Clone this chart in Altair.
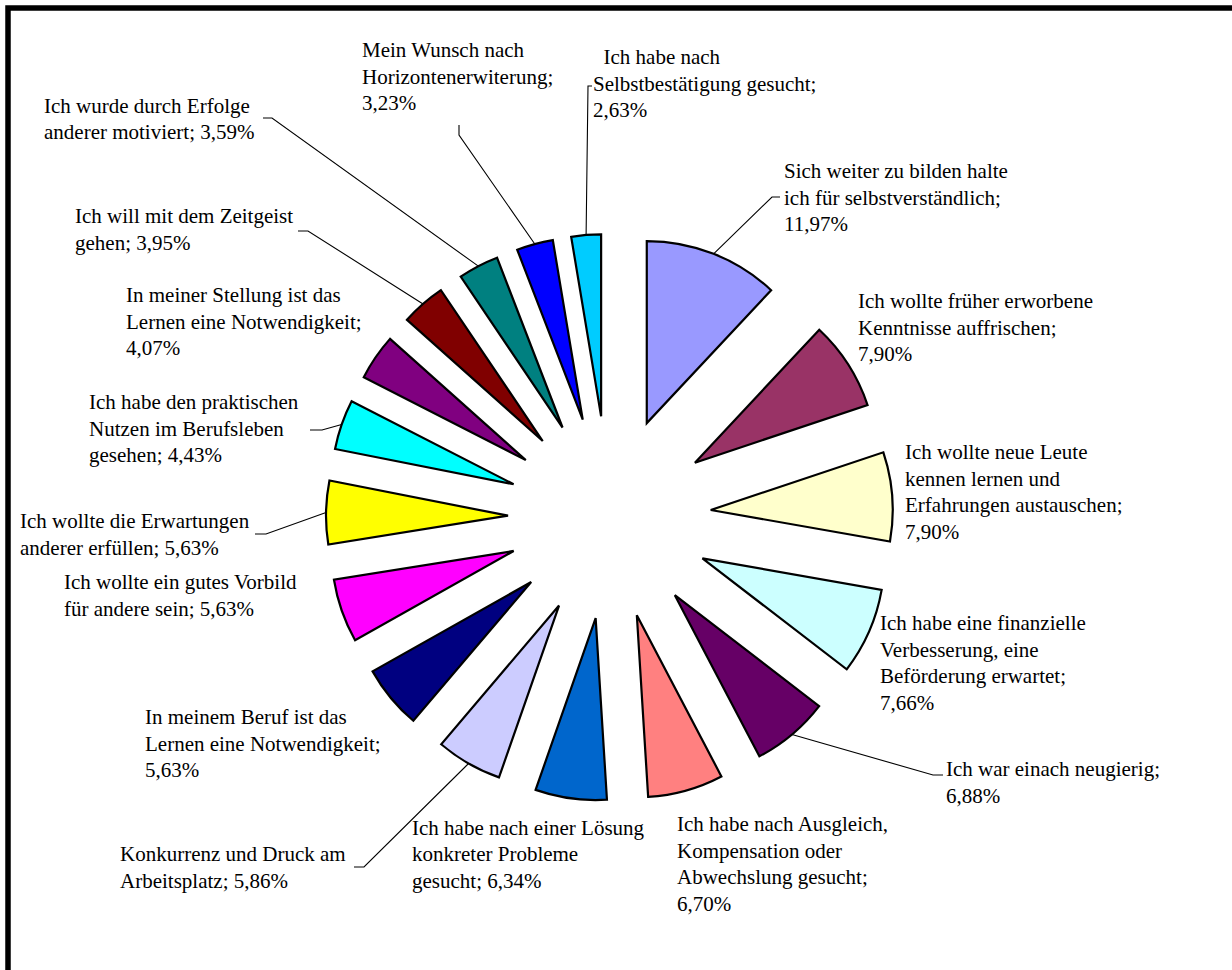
import math
import altair as alt
import pandas as pd

# ---------------- data ----------------
categories = [
    "Sich weiter zu bilden halte\nich für selbstverständlich",
    "Ich wollte früher erworbene\nKenntnisse auffrischen",
    "Ich wollte neue Leute\nkennen lernen und\nErfahrungen austauschen",
    "Ich habe eine finanzielle\nVerbesserung, eine\nBeförderung erwartet",
    "Ich war einach neugierig",
    "Ich habe nach Ausgleich,\nKompensation oder\nAbwechslung gesucht",
    "Ich habe nach einer Lösung\nkonkreter Probleme\ngesucht",
    "Konkurrenz und Druck am\nArbeitsplatz",
    "In meinem Beruf ist das\nLernen eine Notwendigkeit",
    "Ich wollte ein gutes Vorbild\nfür andere sein",
    "Ich wollte die Erwartungen\nanderer erfüllen",
    "Ich habe den praktischen\nNutzen im Berufsleben\ngesehen",
    "In meiner Stellung ist das\nLernen eine Notwendigkeit",
    "Ich will mit dem Zeitgeist\ngehen",
    "Ich wurde durch Erfolge\nanderer motiviert",
    "Mein Wunsch nach\nHorizontenerwiterung",
    "\u200b\u00a0\u00a0Ich habe nach\nSelbstbestätigung gesucht",
]
values = [11.97, 7.90, 7.90, 7.66, 6.88, 6.70, 6.34, 5.86, 5.63, 5.63,
          5.63, 4.43, 4.07, 3.95, 3.59, 3.23, 2.63]
# separator between text and percentage ("\n" = new line)
value_sep = ["\n", "\n", "\n", "\n", "\n", "\n", " ", " ", "\n", " ",
             " ", " ", "\n", " ", " ", "\n", "\n"]
colors = ["#9999FF", "#993366", "#FFFFCC", "#CCFFFF", "#660066", "#FF8080",
          "#0066CC", "#CCCCFF", "#000080", "#FF00FF", "#FFFF00", "#00FFFF",
          "#800080", "#800000", "#008080", "#0000FF", "#00CCFF"]

# ---------------- layout ----------------
W, H = 1232, 970
CX, CY = 609.5, 517.5      # pie centre
EXPLODE = 101.5            # distance each slice is pulled out
R = 182                    # slice radius
FONT = "Liberation Serif"

label_x = [784, 858, 905, 880, 946, 677, 412, 120, 145, 64, 20, 89, 126, 75, 44, 362, 593]
label_y = [178, 308, 459, 630, 776, 831, 834.5, 861, 724, 589, 528, 409, 302, 223, 112.5, 57, 64]

# leader-line waypoints after the start point on the slice (None = no leader)
leaders = [
    [(772, 197), (780, 197)], None, None, None,
    [(933, 775), (943, 775)], None, None,
    [(364, 867), (354, 867)], None, None,
    [(266, 534), (255, 534)],
    [(322, 430), (310, 430)], None,
    [(308, 231), (298, 231)],
    [(272, 118), (263, 118)],
    [(459, 135), (459, 125)],
    [(588, 86), (592, 86)],
]

total = sum(values)


def fmt(v):
    return f"{v:.2f}".replace(".", ",") + "%"


labels = [c + ";" + s + fmt(v) for c, s, v in zip(categories, value_sep, values)]

df = pd.DataFrame({
    "idx": list(range(len(values))),
    "cat": categories,
    "value": values,
})

# ---------------- slices ----------------
arcs = (
    alt.Chart(df)
    .transform_window(cum="sum(value)", sort=[alt.SortField("idx")], frame=[None, 0])
    .transform_calculate(start="datum.cum - datum.value")
    .transform_calculate(mid=f"2*PI*(datum.start + datum.value/2)/{total}")
    .transform_calculate(
        px=f"{CX} + {EXPLODE}*sin(datum.mid)",
        py=f"{CY} - {EXPLODE}*cos(datum.mid)",
    )
    .mark_arc(outerRadius=R, stroke="black", strokeWidth=2.2, strokeJoin="miter")
    .encode(
        theta=alt.Theta("start:Q", stack=None,
                        scale=alt.Scale(domain=[0, total], range=[0, 2 * math.pi])),
        theta2="cum:Q",
        x=alt.X("px:Q", scale=None, axis=None),
        y=alt.Y("py:Q", scale=None, axis=None),
        color=alt.Color("cat:N", scale=alt.Scale(domain=categories, range=colors), legend=None),
    )
)

# ---------------- leader lines ----------------
rows = []
cum = 0.0
for i, v in enumerate(values):
    mid = 2 * math.pi * (cum + v / 2) / total
    cum += v
    if leaders[i] is None:
        continue
    sx = CX + (EXPLODE + R) * math.sin(mid)
    sy = CY - (EXPLODE + R) * math.cos(mid)
    pts = [(sx, sy)] + leaders[i]
    for k, (x, y) in enumerate(pts):
        rows.append({"slice": i, "k": k, "lx": x, "ly": y})
lead_df = pd.DataFrame(rows)

lines = (
    alt.Chart(lead_df)
    .mark_line(color="black", strokeWidth=1.1)
    .encode(
        x=alt.X("lx:Q", scale=None, axis=None),
        y=alt.Y("ly:Q", scale=None, axis=None),
        detail="slice:N",
        order="k:Q",
    )
)

# ---------------- labels ----------------
lab_df = pd.DataFrame({"label": labels, "tx": label_x, "ty": label_y})
texts = (
    alt.Chart(lab_df)
    .mark_text(align="left", baseline="alphabetic", font=FONT, fontSize=21,
               lineHeight=26.5, lineBreak="\n", color="black")
    .encode(
        x=alt.X("tx:Q", scale=None, axis=None),
        y=alt.Y("ty:Q", scale=None, axis=None),
        text="label:N",
    )
)

# ---------------- frame ----------------
frame = (
    alt.Chart(pd.DataFrame({"a": [0]}))
    .mark_rect(fillOpacity=0, stroke="black", strokeWidth=5.5)
    .encode(x=alt.value(8), x2=alt.value(W + 30), y=alt.value(8), y2=alt.value(H + 30))
)

chart = (
    alt.layer(frame, arcs, lines, texts)
    .properties(width=W, height=H, autosize="none", padding=0, background="white")
    .configure_view(strokeWidth=0)
)

chart.save("out.html", embed_options={"renderer": "svg", "actions": False})
